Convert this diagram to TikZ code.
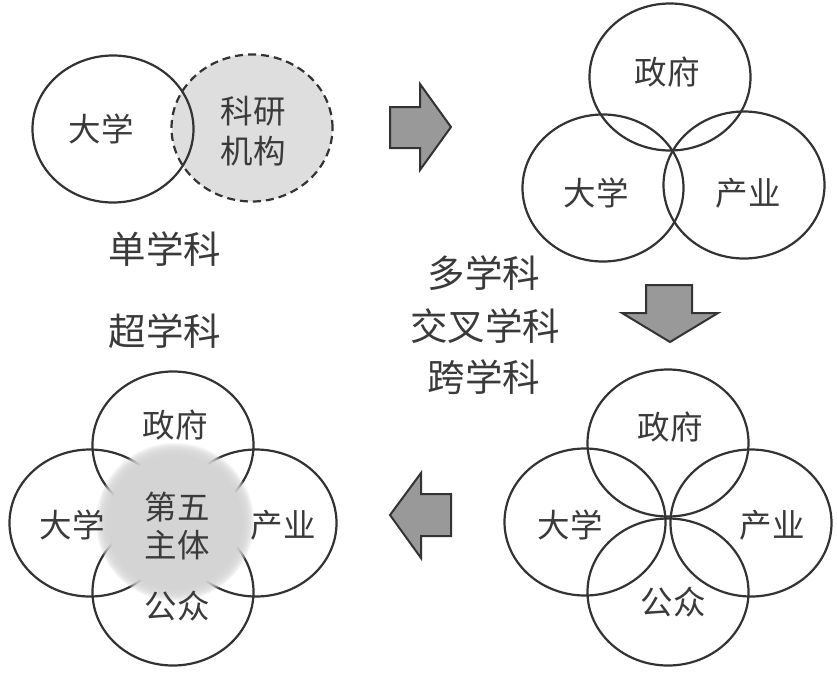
\documentclass[tikz,border=0pt]{standalone}
\usepackage{fontspec}
\newfontfamily\cjk{Noto Sans CJK SC}
\usetikzlibrary{shapes.geometric}
\definecolor{ink}{HTML}{333333}
\definecolor{txt}{HTML}{3A3A3A}
\definecolor{arrowgray}{HTML}{999999}
\definecolor{dashfill}{HTML}{DEDEDE}
\definecolor{blurgray}{HTML}{D4D4D4}
\begin{document}
\begin{tikzpicture}[x=1pt,y=-1pt,
  ring/.style={draw=ink, line width=2.2pt, ellipse, minimum width=161pt, minimum height=147pt, inner sep=0pt},
  lbl/.style={font=\cjk\fontsize{32.5}{36}\selectfont, text=txt, inner sep=0pt},
  captxt/.style={font=\cjk\fontsize{37.5}{40}\selectfont, text=txt, inner sep=0pt},
  bigarrow/.style={draw=ink, line width=2pt, fill=arrowgray, line join=miter}]
\useasboundingbox (0,0) rectangle (837,672);
\fill[white] (0,0) rectangle (837,672);

% ---- top left: single discipline
\node[ring, dashed, dash pattern=on 8pt off 5pt, fill=dashfill] (tlB) at (252,128) {};
\node[ring] (tlA) at (113,129) {};
\node[lbl] (tlAt) at (101,129) {大学};
\node[lbl] (tlBt1) at (253,111) {科研};
\node[lbl] (tlBt2) at (253,151) {机构};
\node[captxt] (c1) at (165,249) {单学科};
\node[captxt] (c2) at (165,331) {超学科};

% ---- arrows
\path[bigarrow] (390,107) -- (420,107) -- (420,84) -- (451,127) -- (420,170) -- (420,148) -- (390,148) -- cycle;
\path[bigarrow] (646,285) -- (692,285) -- (692,313) -- (718,313) -- (670,342) -- (622,313) -- (646,313) -- cycle;
\path[bigarrow] (451,494) -- (421,494) -- (421,473) -- (390,515) -- (421,558) -- (421,536) -- (451,536) -- cycle;

% ---- middle captions
\node[captxt] (c3) at (484,273) {多学科};
\node[captxt] (c4) at (485,326) {交叉学科};
\node[captxt] (c5) at (484,377) {跨学科};

% ---- top right: triple helix
\node[ring] (trG) at (670,77) {};
\node[ring] (trU) at (603,188) {};
\node[ring] (trI) at (744,185) {};
\node[lbl] (trGt) at (667,72) {政府};
\node[lbl] (trUt) at (596,193) {大学};
\node[lbl] (trIt) at (748,193) {产业};

% ---- bottom right: quadruple helix
\node[ring] (brG) at (668,443) {};
\node[ring] (brU) at (585,522) {};
\node[ring] (brI) at (751,523) {};
\node[ring] (brP) at (668,592) {};
\node[lbl] (brGt) at (670,427) {政府};
\node[lbl] (brUt) at (570,525) {大学};
\node[lbl] (brIt) at (772,525) {产业};
\node[lbl] (brPt) at (673,602) {公众};

% ---- bottom left: quintuple helix
\node[ring] (blG) at (173,445) {};
\node[ring] (blU) at (90,523) {};
\node[ring] (blI) at (256,523) {};
\node[ring] (blP) at (173,592) {};
\fill[blurgray] (175,522) circle (67);
\foreach \r in {67,68,...,79}{
  \fill[blurgray, opacity=0.2] (175,522) circle (\r);
}
\node[lbl] (blGt) at (175,425) {政府};
\node[lbl] (blUt) at (72,525) {大学};
\node[lbl] (blIt) at (283,525) {产业};
\node[lbl] (blCt1) at (177,507) {第五};
\node[lbl] (blCt2) at (177,545) {主体};
\node[lbl] (blPt) at (177,606) {公众};
\end{tikzpicture}
\end{document}
